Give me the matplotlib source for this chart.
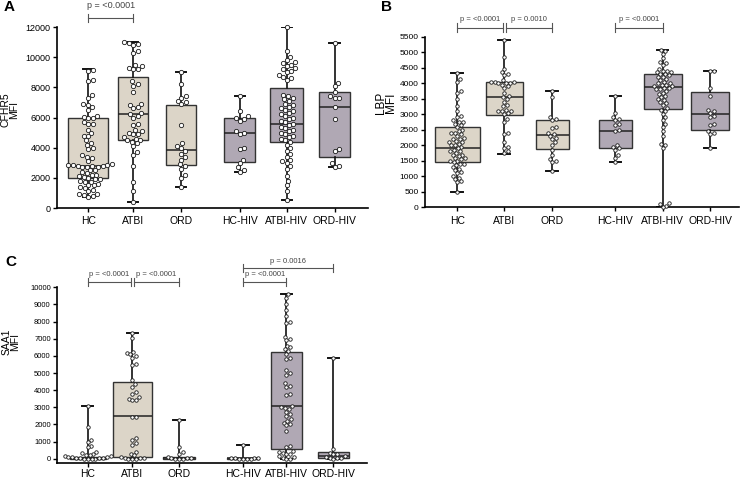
import numpy as np
import matplotlib
matplotlib.use('Agg')
import matplotlib.pyplot as plt

plt.rcParams['font.family'] = ['Liberation Sans', 'DejaVu Sans']

groups = ['HC', 'ATBI', 'ORD', 'HC-HIV', 'ATBI-HIV', 'ORD-HIV']

# ---- panel A: CFHR5 ----
cfhr5_hc = [9150, 9050, 8500, 8450, 7500, 7300, 6900, 6850, 6700, 6500, 6100, 6050, 6000,
            5950, 5700, 5600, 5550, 5200, 5000, 4800, 4750, 4500, 4300, 4200, 4000, 3900,
            3500, 3400, 3300, 3100, 2900, 2850, 2850, 2850, 2800, 2800, 2800, 2750, 2750,
            2700, 2500, 2500, 2400, 2300, 2200, 2200, 2100, 2050, 2000, 1900, 1900, 1800,
            1750, 1700, 1600, 1500, 1500, 1400, 1300, 1200, 1100, 950, 900, 850, 800, 750]
cfhr5_atbi = [11000, 10950, 10900, 10800, 10400, 10300, 9500, 9400, 9300, 9200, 9200, 8400,
              8200, 8100, 7700, 6900, 6800, 6700, 6600, 6300, 6200, 6100, 6000, 5600, 5500,
              5200, 5100, 5000, 4900, 4900, 4700, 4600, 4500, 4500, 4400, 4300, 4100, 3700,
              3500, 2800, 1700, 1100, 400]
cfhr5_ord = [9000, 8200, 7400, 7300, 7100, 7000, 6900, 5500, 4300, 4100, 4000, 3800, 3600,
             3400, 3200, 2900, 2800, 2600, 2200, 2000, 1400]
cfhr5_hchiv = [7400, 6400, 6100, 5950, 5900, 5800, 5100, 5000, 4900, 4000, 3900, 3200, 3000,
               2700, 2500, 2400]
cfhr5_atbihiv = [12000, 10400, 10000, 9800, 9700, 9600, 9500, 9400, 9300, 9200, 9100, 9000,
                 8800, 8700, 8600, 8500, 7500, 7400, 7300, 7200, 7100, 6900, 6800, 6700, 6600,
                 6500, 6400, 6300, 6200, 6100, 6000, 5900, 5800, 5700, 5600, 5500, 5400, 5300,
                 5200, 5100, 5000, 4900, 4800, 4700, 4600, 4500, 4400, 4200, 4000, 3800, 3600,
                 3400, 3200, 3100, 3000, 2800, 2600, 2100, 1800, 1500, 1100, 500]
cfhr5_ordhiv = [10950, 8300, 8100, 7700, 7400, 7300, 7300, 6700, 5900, 3900, 3800, 3000, 2800, 2750]
# min, q1, median, q3, max
cfhr5_box = [(750, 2000, 2800, 5950, 9200), (400, 4500, 6200, 8700, 11000),
             (1400, 2850, 3850, 6800, 9000), (2400, 3050, 4950, 5950, 7400),
             (500, 4350, 5600, 7950, 12000), (2750, 3400, 6700, 7700, 10950)]

# ---- panel B: LBP ----
lbp_hc = [4330, 4150, 4050, 3750, 3700, 3500, 3250, 3100, 2950, 2900, 2800, 2750, 2750, 2700,
          2650, 2600, 2500, 2450, 2400, 2400, 2350, 2300, 2250, 2200, 2200, 2150, 2100, 2100,
          2050, 2000, 2000, 1950, 1900, 1850, 1800, 1800, 1750, 1700, 1700, 1650, 1600, 1600,
          1550, 1500, 1500, 1450, 1400, 1400, 1350, 1300, 1250, 1200, 1150, 1100, 1000, 950,
          900, 850, 800, 500]
lbp_atbi = [5400, 4850, 4450, 4350, 4300, 4250, 4100, 4050, 4050, 4050, 4000, 4000, 4000, 3950,
            3900, 3850, 3700, 3600, 3550, 3500, 3400, 3300, 3250, 3150, 3100, 3100, 3100, 3050,
            3000, 2850, 2750, 2400, 2350, 2100, 1950, 1900, 1800, 1750]
lbp_ord = [3750, 3550, 2900, 2850, 2800, 2600, 2550, 2400, 2350, 2300, 2250, 2200, 2100, 2000,
           1850, 1700, 1550, 1500, 1450, 1170]
lbp_hchiv = [3580, 3050, 2900, 2850, 2800, 2700, 2650, 2500, 2450, 2000, 1950, 1900, 1850,
             1700, 1600, 1450]
lbp_atbihiv = [5080, 5050, 4950, 4800, 4700, 4650, 4600, 4450, 4400, 4400, 4350, 4350, 4300,
               4300, 4250, 4200, 4200, 4150, 4100, 4050, 4000, 4000, 3950, 3950, 3900, 3900,
               3850, 3850, 3800, 3800, 3750, 3700, 3650, 3600, 3550, 3500, 3450, 3400, 3350,
               3300, 3200, 3150, 3100, 3000, 2900, 2800, 2700, 2600, 2450, 2300, 2050, 2000,
               1900, 130, 100, 40, 20]
lbp_ordhiv = [4400, 4380, 3850, 3600, 3150, 3100, 3050, 2950, 2900, 2700, 2650, 2450, 2400,
              2350, 1920]
lbp_box = [(500, 1450, 1900, 2580, 4330), (1730, 2970, 3570, 4050, 5400),
           (1170, 1870, 2330, 2820, 3750), (1450, 1900, 2460, 2820, 3580),
           (20, 3180, 3880, 4300, 5080), (1920, 2500, 3000, 3730, 4400)]

# ---- panel C: SAA1 ----
saa1_hc = [3100, 1850, 1100, 1000, 750, 700, 400, 330, 250, 220, 200, 180, 150, 120, 100,
           80, 60, 40, 30, 20, 10, 5, 0, 0]
saa1_atbi = [7350, 7050, 6250, 6150, 6100, 6000, 5900, 5500, 5450, 4600, 4350, 4200, 3900,
             3800, 3600, 3500, 3450, 3400, 2450, 2450, 1200, 1100, 900, 800, 400, 300, 200,
             100, 60, 40, 20, 10, 0, 0]
saa1_ord = [2250, 700, 400, 300, 100, 60, 40, 20, 10, 0, 0]
saa1_hchiv = [800, 50, 40, 30, 20, 10, 0, 0, 0]
saa1_atbihiv = [9600, 9400, 9000, 8700, 8300, 7950, 7900, 7100, 7000, 6900, 6600, 6500, 6400,
                6300, 6100, 5900, 5800, 5200, 5000, 4900, 4400, 4250, 4200, 3800, 3700, 3050,
                3000, 2950, 2900, 2750, 2600, 2500, 2300, 2200, 2100, 2000, 1950, 1600, 750,
                700, 450, 400, 350, 300, 250, 150, 100, 50, 0, 0]
saa1_ordhiv = [5850, 550, 350, 300, 250, 150, 100, 60, 40, 20, 0]
saa1_box = [(0, 10, 40, 120, 3100), (0, 80, 2480, 4450, 7350), (0, 0, 30, 80, 2250),
            (0, 0, 20, 40, 800), (0, 550, 3100, 6220, 9600), (0, 30, 150, 380, 5850)]

beige = '#dcd5c8'
purple = '#b0a8b4'
box_colors = [beige, beige, beige, purple, purple, purple]


def swarm(ypx, d):
    # simple beeswarm in pixel space
    xs = np.zeros(len(ypx))
    placed = []
    for i in np.argsort(ypx):
        y = ypx[i]
        near = [(px, py) for px, py in placed if abs(py - y) < d]
        cands = [0.0]
        for px, py in near:
            dx = np.sqrt(d * d - (py - y) ** 2)
            cands += [px + dx, px - dx]
        cands.sort(key=abs)
        for c in cands:
            if all((c - px) ** 2 + (y - py) ** 2 >= d * d - 1e-6 for px, py in near):
                xs[i] = c
                break
        placed.append((xs[i], y))
    return xs


fig = plt.figure(figsize=(7.43, 4.78), dpi=100)


def draw(rect, data, stats, pos, xl, widths, ylim, yticks, ms, tick_fs, cap, xpad=3):
    ax = fig.add_axes(rect)
    ax.set_xlim(*xl)
    ax.set_ylim(*ylim)
    st = [dict(whislo=s[0], q1=s[1], med=s[2], q3=s[3], whishi=s[4], fliers=[]) for s in stats]
    bp = ax.bxp(st, positions=pos, widths=widths, patch_artist=True, showfliers=False,
                capwidths=cap,
                boxprops=dict(linewidth=1.0, edgecolor='#333333'),
                medianprops=dict(color='#222222', linewidth=1.1),
                whiskerprops=dict(color='#111111', linewidth=1.2),
                capprops=dict(color='#111111', linewidth=1.4))
    for patch, c in zip(bp['boxes'], box_colors):
        patch.set_facecolor(c)
    unit = ax.transData.transform([[1, 0]])[0, 0] - ax.transData.transform([[0, 0]])[0, 0]
    d = ms * 100 / 72 + 0.4
    for p, vals in zip(pos, data):
        vals = np.asarray(vals, dtype=float)
        ypx = ax.transData.transform(np.column_stack([np.zeros(len(vals)), vals]))[:, 1]
        off = swarm(ypx, d) / unit
        ax.plot(p + off, vals, 'o', ms=ms, mfc='white', mec='#1a1a1a', mew=0.6, zorder=4,
                clip_on=False)
    ax.set_xticks(pos)
    ax.set_xticklabels(groups, fontsize=7.5)
    ax.set_yticks(yticks)
    ax.tick_params(axis='y', labelsize=tick_fs, length=3, width=1, pad=1.5)
    ax.tick_params(axis='x', length=3, width=1, pad=xpad)
    for s in ['top', 'right']:
        ax.spines[s].set_visible(False)
    for s in ['left', 'bottom']:
        ax.spines[s].set_linewidth(1.2)
    return ax


def bracket(ax, x1, x2, y, h, text, fs, gap):
    kw = dict(color='#555555', lw=0.8, clip_on=False)
    ax.plot([x1, x2], [y, y], **kw)
    ax.plot([x1, x1], [y - h, y + h], **kw)
    ax.plot([x2, x2], [y - h, y + h], **kw)
    ax.text((x1 + x2) / 2, y + gap, text, ha='center', va='bottom', fontsize=fs, color='#444444')


# A
posA = [0, 0.97, 2.0, 3.26, 4.27, 5.3]
axA = draw([57 / 743, 270 / 478, 311 / 743, 181 / 478],
           [cfhr5_hc, cfhr5_atbi, cfhr5_ord, cfhr5_hchiv, cfhr5_atbihiv, cfhr5_ordhiv],
           cfhr5_box, posA, (-0.67, 6.02), [0.87, 0.64, 0.66, 0.66, 0.72, 0.68],
           (0, 12000), np.arange(0, 12001, 2000), 3.1, 6.5, 0.22)
bracket(axA, posA[0], posA[1], 12577, 265, 'p = <0.0001', 6.5, 530)
fig.text(9.5 / 743, 1 - 110 / 478, 'CFHR5\nMFI', rotation=90, ha='center', va='center',
         fontsize=7.5, linespacing=0.85)

# B
posB = [0, 0.99, 2.0, 3.33, 4.32, 5.32]
axB = draw([425 / 743, 270.7 / 478, 314 / 743, 170.6 / 478],
           [lbp_hc, lbp_atbi, lbp_ord, lbp_hchiv, lbp_atbihiv, lbp_ordhiv],
           lbp_box, posB, (-0.68, 5.93), [0.94, 0.78, 0.70, 0.69, 0.80, 0.79],
           (0, 5500), np.arange(0, 5501, 500), 2.5, 6, 0.25)
bracket(axB, posB[0], posB[1] - 0.03, 5790, 145, 'p = <0.0001', 5.5, 145)
bracket(axB, posB[1] + 0.03, posB[2], 5790, 145, 'p = 0.0010', 5.5, 145)
bracket(axB, posB[3], posB[4], 5790, 145, 'p = <0.0001', 5.5, 145)
fig.text(386 / 743, 1 - 103 / 478, 'LBP\nMFI', rotation=90, ha='center', va='center',
         fontsize=8.5, linespacing=0.85)

# C
posC = [0, 0.98, 2.01, 3.41, 4.37, 5.4]
axC = draw([57 / 743, 14.7 / 478, 310 / 743, 176 / 478],
           [saa1_hc, saa1_atbi, saa1_ord, saa1_hchiv, saa1_atbihiv, saa1_ordhiv],
           saa1_box, posC, (-0.675, 6.14), [0.8, 0.86, 0.7, 0.7, 0.67, 0.69],
           (-268, 10000), np.arange(0, 10001, 1000), 2.5, 5.5, 0.25, xpad=0.8)
bracket(axC, posC[0], posC[1] - 0.03, 10327, 233, 'p = <0.0001', 5.5, 200)
bracket(axC, posC[1] + 0.03, posC[2], 10327, 233, 'p = <0.0001', 5.5, 200)
bracket(axC, posC[3], posC[4], 10327, 233, 'p = <0.0001', 5.5, 200)
bracket(axC, posC[3], posC[5], 11108, 233, 'p = 0.0016', 5.5, 200)
fig.text(11 / 743, 1 - 342 / 478, 'SAA1\nMFI', rotation=90, ha='center', va='center',
         fontsize=7.5, linespacing=0.85)

# panel letters
fig.text(9 / 743, 1 - 7 / 478, 'A', fontsize=11, fontweight='bold', ha='center', va='center')
fig.text(387 / 743, 1 - 7 / 478, 'B', fontsize=11, fontweight='bold', ha='center', va='center')
fig.text(11 / 743, 1 - 262 / 478, 'C', fontsize=11, fontweight='bold', ha='center', va='center')

fig.savefig('out.png', dpi=100)
